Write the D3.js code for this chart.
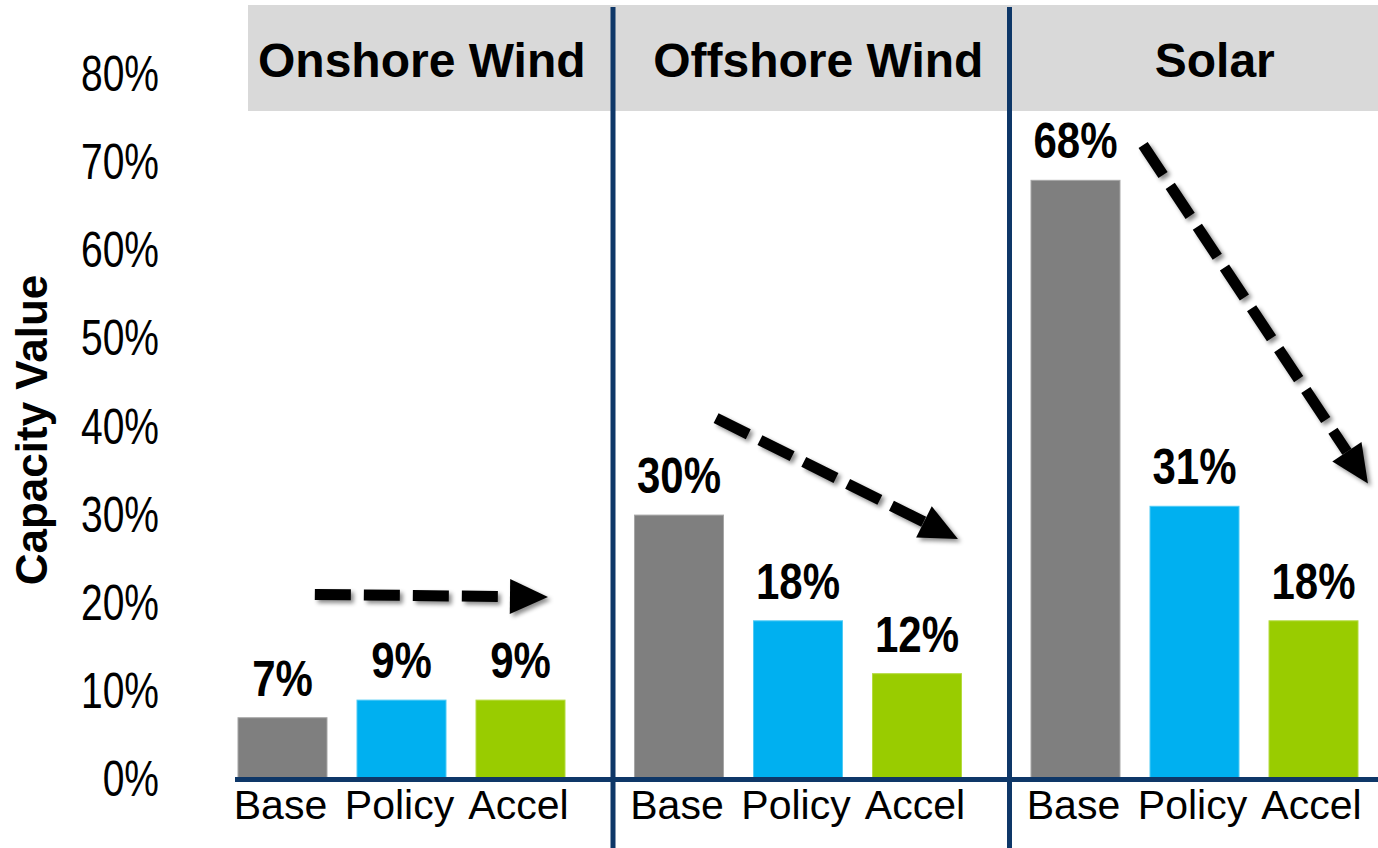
<!DOCTYPE html>
<html>
<head>
<meta charset="utf-8">
<script src="https://cdn.jsdelivr.net/npm/d3@7"></script>
<style>
  body { margin: 0; background: #fff; }
  svg { display: block; }
</style>
</head>
<body>
<svg id="chart" width="1378" height="848"></svg>
<script>
// Capacity value by technology and scenario
const technologies = ["Onshore Wind", "Offshore Wind", "Solar"];
const scenarios = ["Base", "Policy", "Accel"];
const baseValues = [0.07, 0.30, 0.68];
const policyValues = [0.09, 0.18, 0.31];
const accelValues = [0.09, 0.12, 0.18];
const yTicks = [0, 0.1, 0.2, 0.3, 0.4, 0.5, 0.6, 0.7, 0.8];
const scenarioColors = ["#7F7F7F", "#00B0F0", "#99CC00"];
const scenarioEdges = ["#A6A6A6", "#4FCBF5", "#B5DB40"];

// Trend arrows: start and end given as (fraction across the technology group, value)
const trendTech = ["Onshore Wind", "Offshore Wind", "Solar"];
const trendFrom = [[0.248, 0.210], [0.260, 0.410], [0.337, 0.720]];
const trendTo = [[0.836, 0.207], [0.870, 0.273], [0.904, 0.336]];

const seriesByScenario = [baseValues, policyValues, accelValues];
const rows = [];
technologies.forEach((t, i) => {
  scenarios.forEach((s, j) => {
    rows.push({ tech: t, scenario: s, value: seriesByScenario[j][i], color: scenarioColors[j], edge: scenarioEdges[j] });
  });
});

const W = 1378, H = 848;
const svg = d3.select("#chart");
const navy = "#0E3768";
const sans = "'Liberation Sans', Arial, sans-serif";
const pct = d3.format(".0%");

const y = d3.scaleLinear().domain([0, 0.8]).range([779.4, 74.6]);
const xGroup = d3.scaleBand().domain(technologies).range([216.5, 1406]).padding(0);
const xInner = d3.scaleBand().domain(scenarios)
  .range([6.5, 363.5]).paddingInner(0.2521).paddingOuter(0.126);

// drop shadow for the arrows
const defs = svg.append("defs");
const f = defs.append("filter").attr("id", "shadow")
  .attr("x", "-20%").attr("y", "-20%").attr("width", "140%").attr("height", "140%");
f.append("feDropShadow").attr("dx", 3).attr("dy", 3).attr("stdDeviation", 2.2)
  .attr("flood-color", "#000").attr("flood-opacity", 0.45);

// header band
svg.append("rect").attr("x", 248).attr("y", 5).attr("width", W - 248).attr("height", 106)
  .attr("fill", "#D9D9D9");

svg.append("g").selectAll("text").data(technologies).join("text")
  .attr("x", d => xGroup(d) + xGroup.bandwidth() / 2 + 7)
  .attr("y", 77)
  .attr("text-anchor", "middle")
  .attr("font-family", sans)
  .attr("font-weight", "bold")
  .attr("font-size", 48)
  .attr("fill", "#000")
  .text(d => d);

// y axis labels (condensed)
const yAxis = d3.axisLeft(y).tickValues(yTicks).tickFormat(pct).tickSize(0).tickPadding(0);
const gy = svg.append("g").attr("transform", "translate(159,0)").call(yAxis);
gy.select(".domain").remove();
gy.selectAll("text")
  .attr("x", 0)
  .attr("transform", "scale(0.78,1)")
  .attr("font-family", sans)
  .attr("font-size", 50)
  .attr("fill", "#000");

// y axis title
svg.append("text")
  .attr("transform", "translate(47,430) rotate(-90)")
  .attr("text-anchor", "middle")
  .attr("font-family", sans)
  .attr("font-weight", "bold")
  .attr("font-size", 44)
  .text("Capacity Value");

// bars
const groups = svg.append("g").selectAll("g").data(technologies).join("g")
  .attr("transform", d => `translate(${xGroup(d)},0)`);

groups.selectAll("rect").data(t => rows.filter(r => r.tech === t)).join("rect")
  .attr("x", d => xInner(d.scenario))
  .attr("width", xInner.bandwidth())
  .attr("y", d => y(d.value))
  .attr("height", d => y(0) - y(d.value))
  .attr("fill", d => d.color)
  .attr("stroke", d => d.edge)
  .attr("stroke-width", 1);

// value labels (condensed bold)
groups.selectAll("text.value").data(t => rows.filter(r => r.tech === t)).join("text")
  .attr("class", "value")
  .attr("transform", d => `translate(${xInner(d.scenario) + xInner.bandwidth() / 2},${y(d.value) - 22}) scale(0.84,1)`)
  .attr("text-anchor", "middle")
  .attr("font-family", sans)
  .attr("font-weight", "bold")
  .attr("font-size", 50)
  .text(d => pct(d.value));

// scenario labels
groups.selectAll("text.cat").data(t => rows.filter(r => r.tech === t)).join("text")
  .attr("class", "cat")
  .attr("x", d => xInner(d.scenario) + xInner.bandwidth() / 2 - 2)
  .attr("y", 819)
  .attr("text-anchor", "middle")
  .attr("font-family", sans)
  .attr("font-size", 41)
  .text(d => d.scenario);

// group separators and baseline
svg.append("g").selectAll("line").data(technologies.slice(1)).join("line")
  .attr("x1", d => xGroup(d)).attr("x2", d => xGroup(d))
  .attr("y1", 7).attr("y2", H)
  .attr("stroke", navy).attr("stroke-width", 5);

svg.append("line")
  .attr("x1", 235).attr("x2", W)
  .attr("y1", y(0)).attr("y2", y(0))
  .attr("stroke", navy).attr("stroke-width", 5);

// dashed trend arrows
const headLen = 38, headHalf = 17.5;
const arrows = svg.append("g").attr("filter", "url(#shadow)");
trendTech.forEach((t, i) => {
  const x0 = xGroup(t) + trendFrom[i][0] * xGroup.bandwidth();
  const y0 = y(trendFrom[i][1]);
  const x1 = xGroup(t) + trendTo[i][0] * xGroup.bandwidth();
  const y1 = y(trendTo[i][1]);
  const dx = x1 - x0, dy = y1 - y0;
  const len = Math.hypot(dx, dy);
  const ux = dx / len, uy = dy / len;
  const bx = x1 - ux * headLen, by = y1 - uy * headLen;
  arrows.append("line")
    .attr("x1", x0).attr("y1", y0).attr("x2", bx).attr("y2", by)
    .attr("stroke", "#000").attr("stroke-width", 11)
    .attr("stroke-dasharray", "36,13");
  const px = -uy, py = ux;
  arrows.append("path")
    .attr("d", d3.line()([
      [x1, y1],
      [bx + px * headHalf, by + py * headHalf],
      [bx - px * headHalf, by - py * headHalf]
    ]) + "Z")
    .attr("fill", "#000");
});
</script>
</body>
</html>
